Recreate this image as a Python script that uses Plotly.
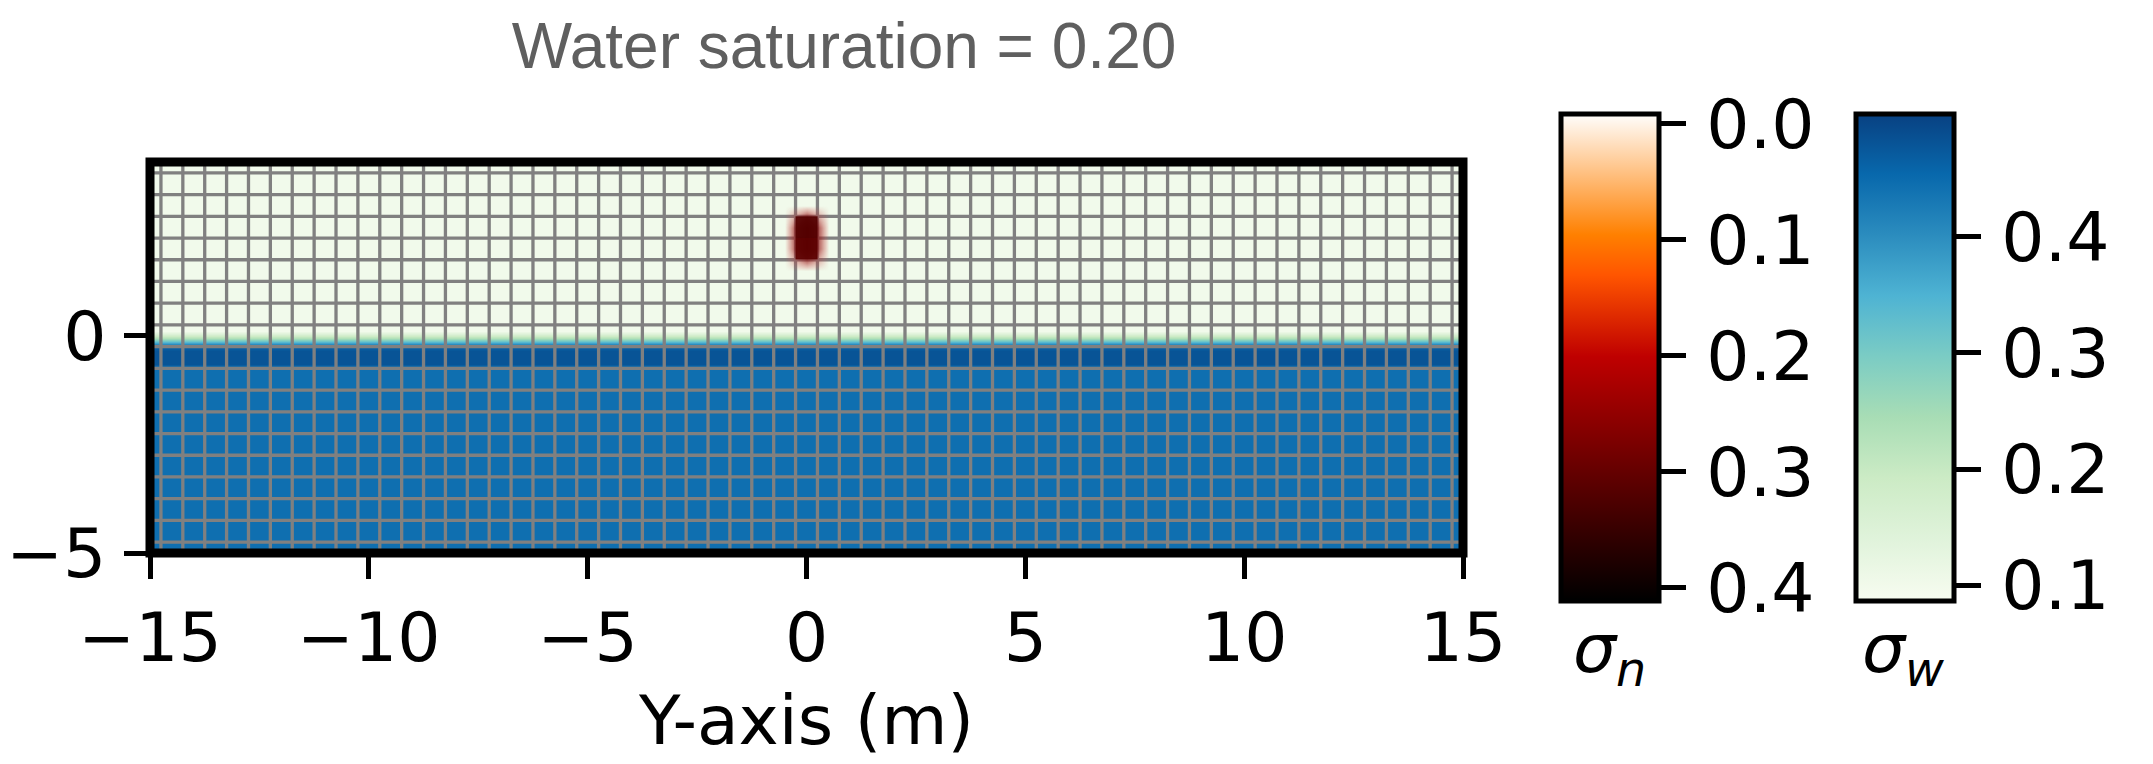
import numpy as np
import plotly.graph_objects as go

# ---------------------------------------------------------------- data
# mesh node coordinates along the profile (m)
cell_x = np.arange(-15.0, 15.01, 0.5)
cell_y = np.arange(-5.0, 4.01, 0.5)

# water saturation against depth (laterally uniform)
sw_depth = [4.0, 0.10, 0.04, -0.04, -0.12, -0.20, -0.28, -0.34, -0.64, -0.72, -5.0]
sw_value = [0.10, 0.10, 0.15, 0.23, 0.31, 0.40, 0.465, 0.48, 0.48, 0.443, 0.443]

# NAPL saturation in the contaminated cells
nw_x = [0.0]
nw_y = [2.0, 2.5]
nw_value = [[0.31], [0.32]]

# colour-bar ranges and ticks
sn_range = [-0.009, 0.411]
sn_ticks = [0.0, 0.1, 0.2, 0.3, 0.4]
sw_range = [0.087, 0.506]
sw_ticks = [0.1, 0.2, 0.3, 0.4]
x_ticks = [-15, -10, -5, 0, 5, 10, 15]
y_ticks = [-5, 0]
x_range = [-15, 15]
y_range = [-5, 4]

# ---------------------------------------------------------------- styling
W, H = 2153, 764
ML, MR, MT, MB = 150, 690, 162, 211
PW, PH = W - ML - MR, H - MT - MB
TICK_FONT = dict(family="DejaVu Sans", size=68, color="black")
CELL = 0.5
HAIR = "\u200a"

GNBU = [[0.0, "#f7fcf0"], [0.125, "#e0f3db"], [0.25, "#ccebc5"], [0.375, "#a8ddb5"],
        [0.5, "#7bccc4"], [0.625, "#4eb3d3"], [0.75, "#2b8cbe"], [0.875, "#0868ac"],
        [1.0, "#084081"]]
# gist_heat, used with negated saturation so 0 sits at the top of the bar
HEAT = [[0.0, "rgb(0,0,0)"], [0.5, "rgb(191,0,0)"], [0.6667, "rgb(255,85,0)"],
        [0.75, "rgb(255,128,0)"], [1.0, "rgb(255,255,255)"]]
HALO = [[0.0, "rgba(210,80,80,0)"], [0.12, "rgba(200,70,70,0.22)"],
        [0.35, "rgba(165,35,35,0.55)"], [0.6, "rgba(125,15,15,0.85)"],
        [1.0, "rgba(95,5,5,1)"]]


def px_x(p):
    return (p - ML) / PW


def px_y(p):
    return (H - MB - p) / PH


def cb(left_px, vals, text):
    return dict(
        thickness=98, thicknessmode="pixels", len=487, lenmode="pixels",
        x=px_x(left_px), xref="paper", xanchor="left", xpad=0,
        y=px_y(357), yref="paper", yanchor="middle", ypad=0,
        outlinewidth=5, outlinecolor="black",
        ticks="outside", ticklen=25, tickwidth=5, tickcolor="black",
        tickvals=vals, ticktext=[HAIR + t for t in text], tickfont=TICK_FONT,
    )


fig = go.Figure()

# water saturation field
sw_grid = np.tile(np.array(sw_value)[:, None], (1, len(cell_x)))
fig.add_trace(go.Heatmap(
    x=cell_x, y=sw_depth, z=sw_grid, zsmooth="best",
    colorscale=GNBU, zmin=sw_range[0], zmax=sw_range[1],
    colorbar=cb(1855.5, sw_ticks, [f"{v:.1f}" for v in sw_ticks]),
    hoverinfo="skip",
))

# mesh outline
ex = np.concatenate([[cell_x[0] - CELL / 2], (cell_x[:-1] + cell_x[1:]) / 2, [cell_x[-1] + CELL / 2]])
ey = np.concatenate([[cell_y[0] - CELL / 2], (cell_y[:-1] + cell_y[1:]) / 2, [cell_y[-1] + CELL / 2]])
gx, gy = [], []
for v in ex:
    gx += [v, v, None]
    gy += [ey[0], ey[-1], None]
for v in ey:
    gx += [ex[0], ex[-1], None]
    gy += [v, v, None]
fig.add_trace(go.Scatter(x=gx, y=gy, mode="lines", line=dict(color="#808080", width=3.3),
                         hoverinfo="skip", showlegend=False))

# NAPL layer sits on an overlaid pair of axes so it is drawn over the mesh
nw = np.array(nw_value)
halo_z = np.pad(nw, 1)
halo_x = np.concatenate([[nw_x[0] - CELL], nw_x, [nw_x[-1] + CELL]])
halo_y = np.concatenate([[nw_y[0] - CELL], nw_y, [nw_y[-1] + CELL]])
fig.add_trace(go.Heatmap(
    x=halo_x, y=halo_y, z=halo_z, zsmooth="best", colorscale=HALO,
    zmin=0, zmax=nw.max(), showscale=False, hoverinfo="skip",
    xaxis="x2", yaxis="y2",
))

nx_edges = np.concatenate([np.array(nw_x) - CELL / 2, [nw_x[-1] + CELL / 2]])
ny_edges = np.concatenate([np.array(nw_y) - CELL / 2, [nw_y[-1] + CELL / 2]])
fig.add_trace(go.Heatmap(
    x=nx_edges, y=ny_edges, z=-nw, colorscale=HEAT, opacity=0.93,
    zmin=-sn_range[1], zmax=-sn_range[0],
    colorbar=cb(1560.5, [-v for v in sn_ticks], [f"{v:.1f}" for v in sn_ticks]),
    hoverinfo="skip", xaxis="x2", yaxis="y2",
))

fig.update_layout(
    width=W, height=H,
    margin=dict(l=ML, r=MR, t=MT, b=MB, autoexpand=False),
    paper_bgcolor="white", plot_bgcolor="white",
    showlegend=False,
    title=dict(text="Water saturation = 0.20", x=844 / W, xref="container", xanchor="center",
               y=1 - 46 / H, yref="container", yanchor="middle",
               font=dict(family="Liberation Sans", size=64, color="#5f5f5f")),
    xaxis=dict(range=x_range, tickvals=x_ticks, ticks="outside", ticklen=25, tickwidth=5,
               tickcolor="black", showgrid=False, zeroline=False, showline=False,
               tickfont=TICK_FONT, automargin=False,
               title=dict(text="Y-axis (m)", font=TICK_FONT, standoff=20)),
    yaxis=dict(range=y_range, tickvals=y_ticks, ticks="outside", ticklen=25, tickwidth=5,
               tickcolor="black", showgrid=False, zeroline=False, showline=False,
               tickfont=TICK_FONT, ticklabelstandoff=4, automargin=False),
    xaxis2=dict(range=x_range, overlaying="x", anchor="y2", visible=False),
    yaxis2=dict(range=y_range, overlaying="y", anchor="x2", visible=False),
    shapes=[dict(type="rect", xref="paper", yref="paper", x0=0, x1=1, y0=0, y1=1,
                 line=dict(color="black", width=9), layer="above")],
    annotations=[
        dict(text="<i>σ</i><sub><i>n</i></sub>", x=px_x(1609.5), y=px_y(653),
             xref="paper", yref="paper", xanchor="center", yanchor="middle", showarrow=False,
             font=dict(family="DejaVu Sans", size=68, color="black")),
        dict(text="<i>σ</i><sub><i>w</i></sub>", x=px_x(1903.5), y=px_y(653),
             xref="paper", yref="paper", xanchor="center", yanchor="middle", showarrow=False,
             font=dict(family="DejaVu Sans", size=68, color="black")),
    ],
)

fig.write_html("out.html")
